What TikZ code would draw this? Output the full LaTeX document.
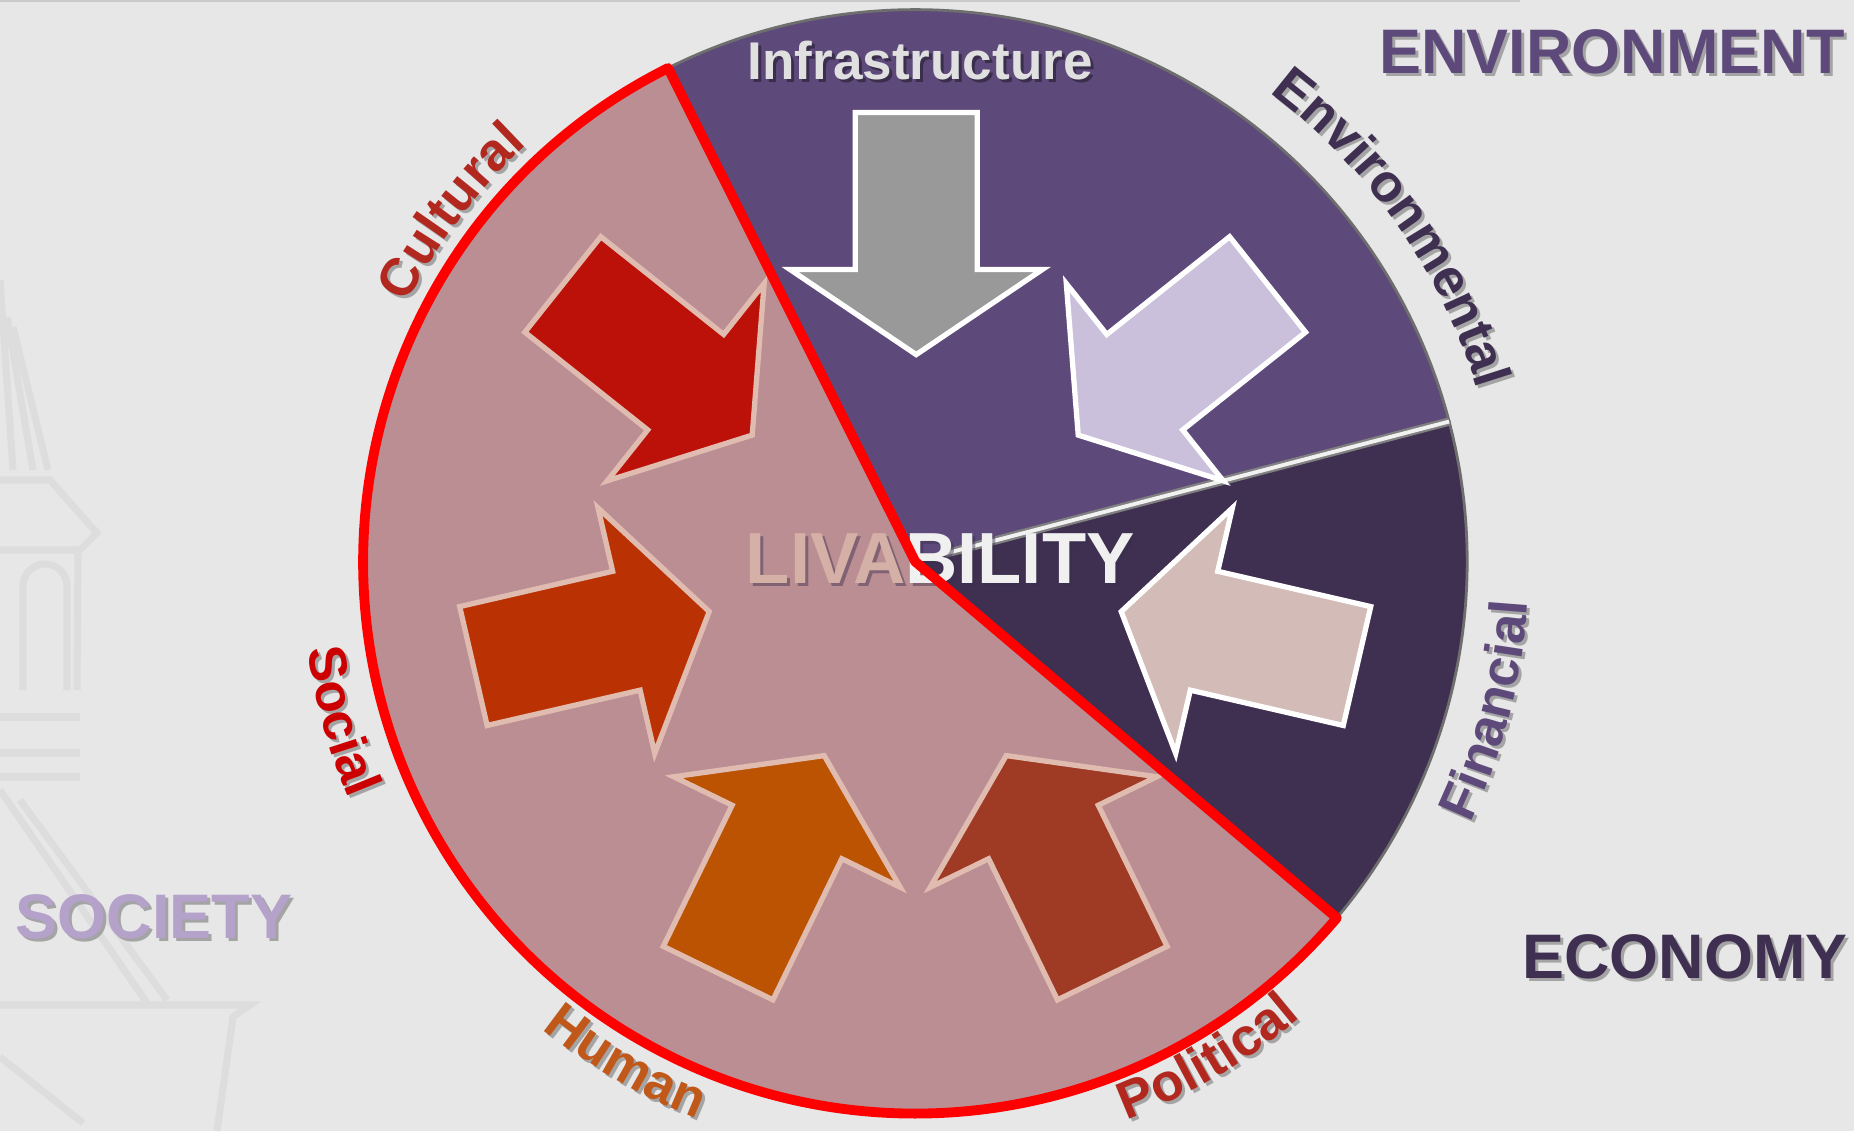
\documentclass[tikz,border=0pt]{standalone}
\usepackage{fontspec}
\setmainfont{Liberation Sans}
\usetikzlibrary{decorations.text}

\definecolor{bgcol}{HTML}{E7E7E7}
\definecolor{bandcol}{HTML}{CACACA}
\definecolor{ghostcol}{HTML}{DDDDDD}
\definecolor{pinkfill}{HTML}{BB8E94}
\definecolor{envfill}{HTML}{5E4A7A}
\definecolor{econfill}{HTML}{3F2F50}
\definecolor{sectoredge}{HTML}{6E6E6E}
\definecolor{warmedge}{HTML}{E0BCB0}
\definecolor{culturalfill}{HTML}{BB1108}
\definecolor{socialfill}{HTML}{BA3204}
\definecolor{humanfill}{HTML}{BC5303}
\definecolor{politicalfill}{HTML}{9F3A24}
\definecolor{infrafill}{HTML}{999999}
\definecolor{envarrow}{HTML}{CBC0DB}
\definecolor{finarrow}{HTML}{D3BBB7}
\definecolor{culturalcol}{HTML}{B2281F}
\definecolor{socialcol}{HTML}{CC0000}
\definecolor{humancol}{HTML}{C0581A}
\definecolor{envtext}{HTML}{3F2F50}
\definecolor{fintext}{HTML}{5E4A7A}
\definecolor{infratext}{HTML}{E0E0E0}
\definecolor{livacol}{HTML}{D4B0A6}
\definecolor{bilitycol}{HTML}{F0F0F0}
\definecolor{societycol}{HTML}{B4A2CA}
\definecolor{labelshadow}{HTML}{A4A4A4}
\definecolor{darkshadow}{HTML}{3A2E4C}

\newcommand{\labelsize}{\bfseries\fontsize{15.1}{18}\selectfont}
% text bent along the rim, with a soft shadow under it
\newcommand{\arclabel}[5]{%
  \path[decorate, shift={(0.03,-0.03)}, decoration={text along path, text align=center,
    text color=labelshadow, text={|\labelsize|#5}}] (#3:#2) arc[start angle=#3, end angle=#4, radius=#2];
  \path[decorate, decoration={text along path, text align=center,
    text color=#1, text={|\labelsize|#5}}] (#3:#2) arc[start angle=#3, end angle=#4, radius=#2];
}

\tikzset{
  blockarrow/.pic={
    \path[pic actions] (0,0) -- (-0.85,1.26) -- (-0.85,0.61) -- (-2.42,0.61)
      -- (-2.42,-0.61) -- (-0.85,-0.61) -- (-0.85,-1.26) -- cycle;
  },
  warmarrow/.style={draw=warmedge, line width=1.5pt},
  coolarrow/.style={draw=white, line width=1.5pt},
  ghost/.style={draw=ghostcol, line width=2pt},
  outerlabel/.style={anchor=base, inner sep=0pt, font=\bfseries\fontsize{17.9}{21}\selectfont},
}

\begin{document}
\begin{tikzpicture}
    \useasboundingbox (0,0) rectangle (18.54,11.31);
    \fill[bgcol] (0,0) rectangle (18.54,11.31);
    \fill[bandcol] (0,11.285) rectangle (15.2,11.31);

    % faint tower in the back
    \draw[ghost] (0,8.51) -- (0.13,6.61);
    \draw[ghost] (0.07,8.14) -- (0.33,6.61);
    \draw[ghost] (0.13,8.04) -- (0.48,6.61);
    \draw[ghost] (0,6.51) -- (0.50,6.51) -- (0.97,5.98) -- (0.80,5.81) -- (0,5.81);
    \draw[ghost] (0.78,5.81) -- (0.77,4.41);
    \draw[ghost] (0.23,4.41) -- (0.23,5.45) arc[start angle=180, end angle=0, radius=0.22] -- (0.67,4.41);
    \draw[ghost] (0,4.14) -- (0.8,4.14);
    \draw[ghost] (0,3.78) -- (0.8,3.78);
    \draw[ghost] (0,3.54) -- (0.8,3.54);
    \draw[ghost] (0,3.41) -- (1.47,1.28);
    \draw[ghost] (0.2,3.31) -- (1.67,1.31);
    \draw[ghost] (0,1.26) -- (2.5,1.26) -- (2.33,1.14) -- (2.17,0);
    \draw[ghost] (0,0.74) -- (0.83,0.08);

    \begin{scope}[shift={(9.152,5.694)}]
    % the three sectors
    \filldraw[envfill, draw=sectoredge, line width=0.8pt] (0,0) -- (14.7:5.52) arc[start angle=14.7, end angle=116.6, radius=5.52] -- cycle;
    \filldraw[econfill, draw=sectoredge, line width=0.8pt] (0,0) -- (-40.2:5.52) arc[start angle=-40.2, end angle=14.7, radius=5.52] -- cycle;
    \draw[gray, line width=2.4pt] (0.3,0.08) -- (14.7:5.52);
    \draw[bgcol!60!white, line width=1.1pt] (0.3,0.08) -- (14.7:5.52);
    \fill[pinkfill] (0,0) -- (116.6:5.52) arc[start angle=116.6, end angle=319.8, radius=5.52] -- cycle;

    % arrows pointing in
    \pic[coolarrow, fill=infrafill, rotate=-90] at (0.01,2.07) {blockarrow};
    \pic[coolarrow, fill=envarrow, rotate=218.5] at (1.63,1.265) {blockarrow};
    \pic[coolarrow, fill=finarrow, rotate=167] at (2.06,-0.50) {blockarrow};
    \pic[warmarrow, fill=politicalfill, rotate=116] at (0.91,-1.94) {blockarrow};
    \pic[warmarrow, fill=humanfill, rotate=64] at (-0.91,-1.94) {blockarrow};
    \pic[warmarrow, fill=socialfill, rotate=13] at (-2.06,-0.50) {blockarrow};
    \pic[warmarrow, fill=culturalfill, rotate=-38.5] at (-1.63,1.265) {blockarrow};

    \node[anchor=base, inner sep=0pt, text=darkshadow, opacity=0.45, font=\bfseries\fontsize{20.6}{24}\selectfont]
      (livability-sh) at (0.28,-0.244) {LIVABILITY};
    \node[anchor=base, inner sep=0pt, font=\bfseries\fontsize{20.6}{24}\selectfont]
      (livability) at (0.25,-0.214) {\color{livacol}LIVA\color{bilitycol}BILITY};

    % society boundary
    \draw[red, line width=2.8pt, line join=round] (0,0) -- (116.6:5.52) arc[start angle=116.6, end angle=319.8, radius=5.52] -- cycle;

    \node[anchor=base, inner sep=0pt, text=darkshadow, font=\bfseries\fontsize{15.1}{18}\selectfont]
      (infrastructure-sh) at (0.08,4.786) {Infrastructure};
    \node[anchor=base, inner sep=0pt, text=infratext, font=\bfseries\fontsize{15.1}{18}\selectfont]
      (infrastructure) at (0.05,4.816) {Infrastructure};

    \arclabel{culturalcol}{5.70}{173}{113}{Cultural}
    \arclabel{envtext}{5.88}{65}{5}{Environmental}
    \arclabel{fintext}{6.14}{-44.5}{15.5}{Financial}
    \arclabel{culturalcol}{5.97}{-89.5}{-29.5}{Political}
    \arclabel{humancol}{5.98}{210}{270}{Human}
    \arclabel{socialcol}{6.14}{170.5}{220.5}{Social}
    \end{scope}

    \node[outerlabel, text=labelshadow] (environment-sh) at (16.15,10.54) {ENVIRONMENT};
    \node[outerlabel, text=envfill] (environment) at (16.12,10.57) {ENVIRONMENT};
    \node[outerlabel, text=labelshadow] (economy-sh) at (16.88,1.50) {ECONOMY};
    \node[outerlabel, text=econfill] (economy) at (16.85,1.53) {ECONOMY};
    \node[outerlabel, text=labelshadow] (society-sh) at (1.57,1.90) {SOCIETY};
    \node[outerlabel, text=societycol] (society) at (1.54,1.93) {SOCIETY};
\end{tikzpicture}
\end{document}
